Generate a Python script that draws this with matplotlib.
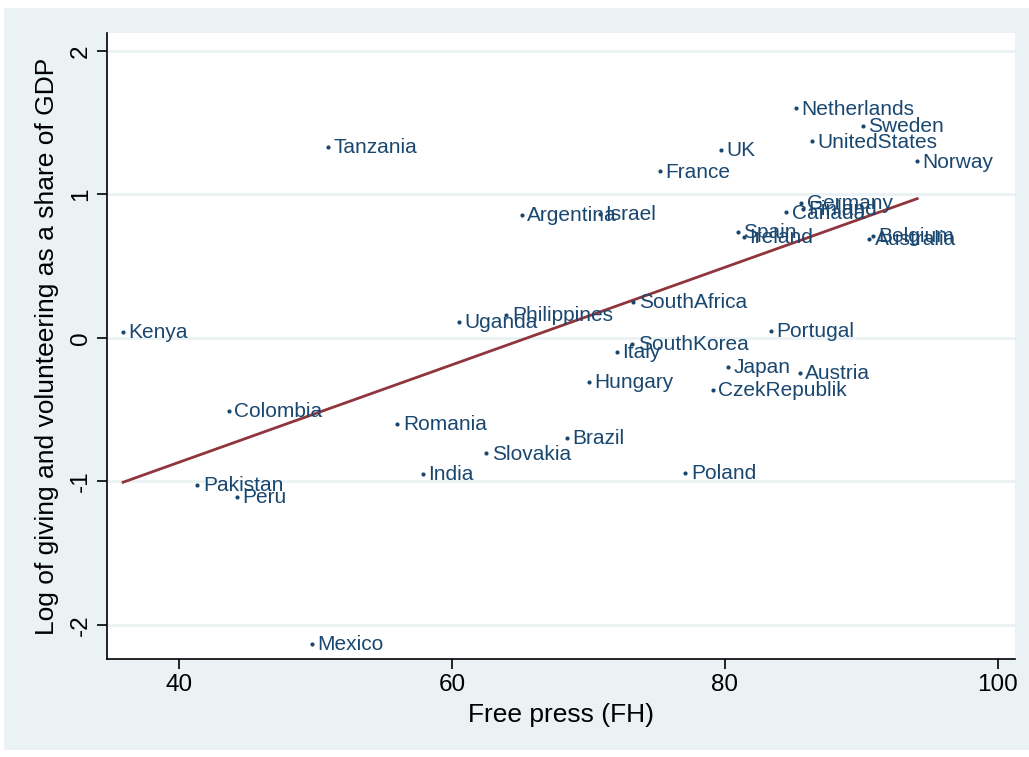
import numpy as np
import matplotlib
matplotlib.use("Agg")
import matplotlib.pyplot as plt
from matplotlib.patches import Rectangle

plt.rcParams["font.family"] = ["Liberation Sans", "DejaVu Sans"]
plt.rcParams["axes.unicode_minus"] = False

# NOTE: data
countries = [
    "Netherlands", "Sweden", "UnitedStates", "Norway", "UK", "France",
    "Tanzania", "Germany", "Canada", "Finland", "Spain", "Ireland",
    "Belgium", "Australia", "Argentina", "Israel", "Uganda", "Philippines",
    "SouthAfrica", "Portugal", "SouthKorea", "Italy", "Hungary", "Japan",
    "Austria", "CzekRepublik", "Kenya", "Colombia", "Romania", "Brazil",
    "Slovakia", "India", "Pakistan", "Peru", "Poland", "Mexico",
]
free_press = [
    85.2, 90.1, 86.4, 94.1, 79.7, 75.25,
    50.9, 85.6, 84.5, 85.7, 80.95, 81.4,
    90.85, 90.6, 65.1, 70.85, 60.5, 64.0,
    73.3, 83.35, 73.2, 72.1, 70.05, 80.25,
    85.5, 79.1, 35.9, 43.65, 56.0, 68.4,
    62.5, 57.85, 41.35, 44.25, 77.1, 49.75,
]
log_giving = [
    1.60, 1.48, 1.37, 1.23, 1.31, 1.16,
    1.33, 0.94, 0.875, 0.90, 0.74, 0.705,
    0.71, 0.69, 0.855, 0.865, 0.11, 0.16,
    0.25, 0.05, -0.04, -0.095, -0.305, -0.20,
    -0.245, -0.36, 0.045, -0.51, -0.60, -0.695,
    -0.805, -0.945, -1.025, -1.11, -0.94, -2.13,
]
xticks = [40, 60, 80, 100]
yticks = [-2, -1, 0, 1, 2]

navy = "#1a476f"
maroon = "#90353b"
bg = "#eaf2f3"

fig = plt.figure(figsize=(10.29, 7.57), dpi=100)
fig.patch.set_facecolor("white")
# outer graph region
fig.patches.append(Rectangle((4 / 1029, 7 / 757), 1 - 4 / 1029, 1 - 15 / 757,
                             transform=fig.transFigure, facecolor=bg,
                             edgecolor="none", zorder=-10))

ax = fig.add_axes([107 / 1029, 1 - 659 / 757, 908 / 1029, 626 / 757])
ax.set_facecolor("white")
ax.set_xlim(34.72, 101.27)
ax.set_ylim(-2.237, 2.125)

for yt in yticks:
    ax.axhline(yt, color=bg, lw=2, zorder=0)

# linear fit
x = np.array(free_press)
y = np.array(log_giving)
slope, intercept = np.polyfit(x, y, 1)
xs = np.array([x.min(), x.max()])
ax.plot(xs, intercept + slope * xs, color=maroon, lw=2, zorder=2)

ax.scatter(x, y, s=9, color=navy, zorder=3, linewidths=0)
for name, xi, yi in zip(countries, free_press, log_giving):
    ax.annotate(name, (xi, yi), xytext=(4, -0.5), textcoords="offset points",
                va="center", ha="left", fontsize=15, color=navy, zorder=4)

for side in ["top", "right"]:
    ax.spines[side].set_visible(False)
ax.spines["left"].set_linewidth(1.2)
ax.spines["bottom"].set_linewidth(1.2)

ax.set_xticks(xticks)
ax.set_yticks(yticks)
ax.tick_params(axis="both", labelsize=17.5, length=7, width=1.2, pad=4)
plt.setp(ax.get_yticklabels(), rotation=90, va="center")
ax.set_xlabel("Free press (FH)", fontsize=19, labelpad=5)
ax.set_ylabel("Log of giving and volunteering as a share of GDP", fontsize=19, labelpad=8)

fig.savefig("out.png", dpi=100, facecolor=fig.get_facecolor())
